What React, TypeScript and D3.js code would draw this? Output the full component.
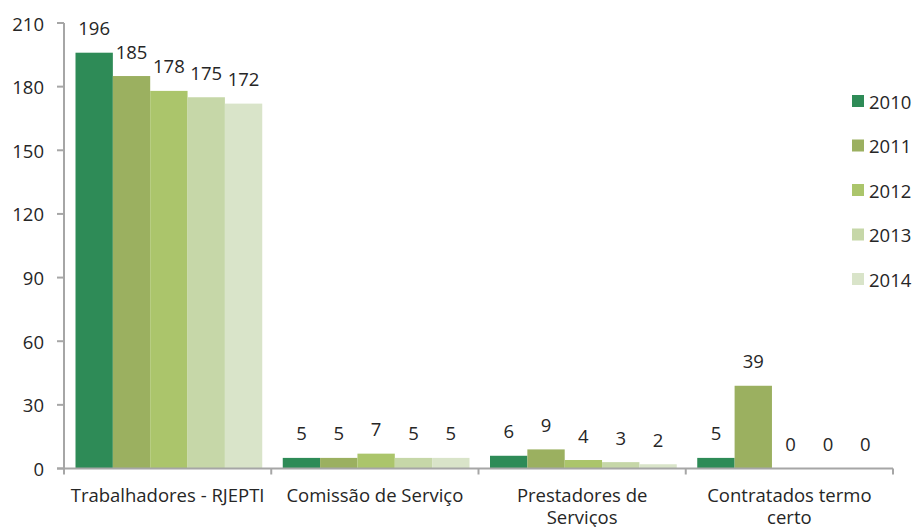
import React from "react";
import * as d3 from "d3";

const categories = [
  ["Trabalhadores - RJEPTI"],
  ["Comissão de Serviço"],
  ["Prestadores de", "Serviços"],
  ["Contratados termo", "certo"],
];
const years = ["2010", "2011", "2012", "2013", "2014"];
const values2010 = [196, 5, 6, 5];
const values2011 = [185, 5, 9, 39];
const values2012 = [178, 7, 4, 0];
const values2013 = [175, 5, 3, 0];
const values2014 = [172, 5, 2, 0];
const series = [values2010, values2011, values2012, values2013, values2014];
const colors = ["#2E8B57", "#9BB060", "#ABC56B", "#C6D7A8", "#D9E4C9"];
const yTicks = [0, 30, 60, 90, 120, 150, 180, 210];

const W = 912;
const H = 527;
const m = { left: 64, right: 19, top: 23, bottom: 58.5 };
const font = "'Open Sans', sans-serif";
const textColor = "#262626";
const axisColor = "#A6A6A6";
const fs = 18.5;

export default function App() {
  const x0 = d3
    .scaleBand<number>()
    .domain(categories.map((_, i) => i))
    .range([m.left, W - m.right])
    .paddingInner(0)
    .paddingOuter(0);
  const gapL = 11.5;
  const gapR = 9;
  const x1 = d3
    .scaleBand<number>()
    .domain(years.map((_, i) => i))
    .range([gapL, x0.bandwidth() - gapR])
    .padding(0);
  const y = d3.scaleLinear().domain([0, 210]).range([H - m.bottom, m.top]);
  const y0 = y(0);

  return (
    <svg
      width={W}
      height={H}
      style={{ position: "absolute", left: 0, top: 0, background: "#fff" }}
      fontFamily={font}
    >
      {series.map((vals, s) =>
        vals.map((v, c) => {
          const bx = x0(c)! + x1(s)!;
          return (
            <g key={`${s}-${c}`}>
              {v > 0 && (
                <rect
                  x={bx}
                  y={y(v)}
                  width={x1.bandwidth()}
                  height={y0 - y(v)}
                  fill={colors[s]}
                />
              )}
              <text
                x={bx + x1.bandwidth() / 2}
                y={y(v) - 25}
                textAnchor="middle"
                dominantBaseline="central"
                fontSize={fs}
                fill={textColor}
              >
                {v}
              </text>
            </g>
          );
        })
      )}
      {/* y axis */}
      <line x1={m.left} x2={m.left} y1={m.top} y2={y0} stroke={axisColor} strokeWidth={2} />
      {yTicks.map((t) => (
        <g key={t}>
          <line x1={m.left - 7} x2={m.left} y1={y(t)} y2={y(t)} stroke={axisColor} strokeWidth={2} />
          <text
            x={m.left - 20}
            y={y(t)}
            textAnchor="end"
            dominantBaseline="central"
            fontSize={fs}
            fill={textColor}
          >
            {t}
          </text>
        </g>
      ))}
      {/* x axis */}
      <line x1={m.left - 7} x2={W - m.right} y1={y0} y2={y0} stroke={axisColor} strokeWidth={2} />
      {[...categories.map((_, i) => x0(i)!), W - m.right].map((px, i) => (
        <line key={i} x1={px} x2={px} y1={y0} y2={y0 + 6} stroke={axisColor} strokeWidth={2} />
      ))}
      {categories.map((lines, i) => (
        <text key={i} textAnchor="middle" fontSize={fs} fill={textColor}>
          {lines.map((l, j) => (
            <tspan
              key={j}
              x={x0(i)! + x0.bandwidth() / 2}
              y={y0 + 25.5 + j * 22}
              dominantBaseline="central"
            >
              {l}
            </tspan>
          ))}
        </text>
      ))}
      {/* legend */}
      {years.map((yr, i) => (
        <g key={yr} transform={`translate(852, ${101 + i * 44.5})`}>
          <rect x={0} y={-6} width={12} height={12} fill={colors[i]} />
          <text x={17} y={0} dominantBaseline="central" fontSize={fs} fill={textColor}>
            {yr}
          </text>
        </g>
      ))}
    </svg>
  );
}
